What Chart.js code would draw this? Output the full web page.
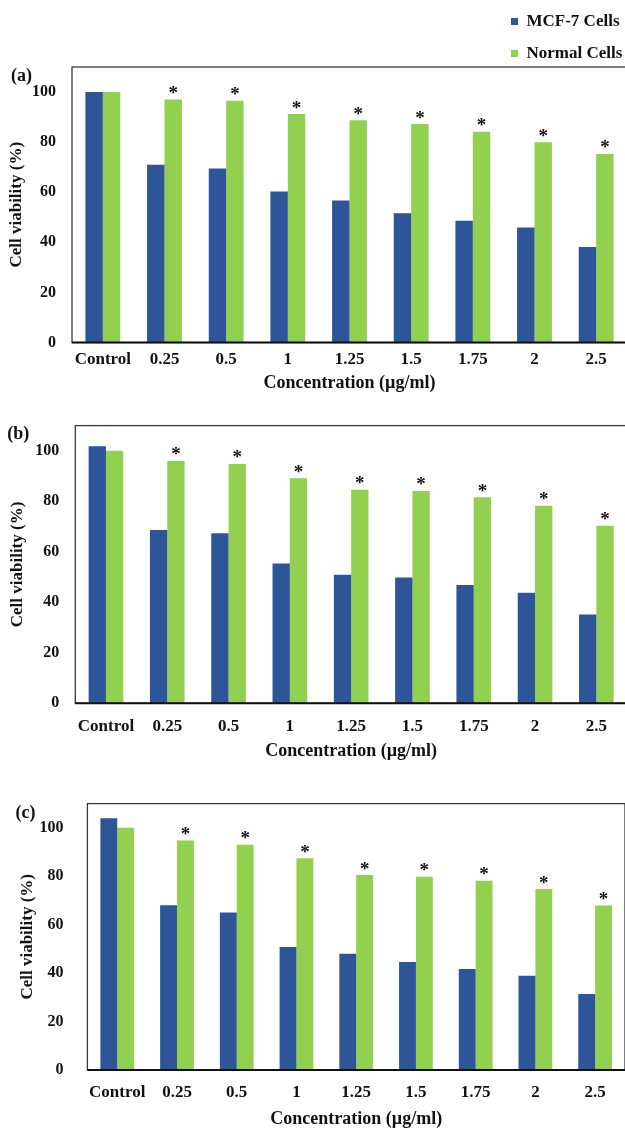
<!DOCTYPE html>
<html>
<head>
<meta charset="utf-8">
<script src="https://cdn.jsdelivr.net/npm/chart.js@4.4.1/dist/chart.umd.min.js"></script>
<style>
  html, body { margin: 0; padding: 0; background: #fff; width: 625px; height: 1128px; overflow: hidden; position: relative; }
  canvas { position: absolute; }
</style>
</head>
<body>
<canvas id="ca"></canvas>
<canvas id="cb"></canvas>
<canvas id="cc"></canvas>
<canvas id="legend"></canvas>
<script>
// ---- data ----
const categories = ['Control', '0.25', '0.5', '1', '1.25', '1.5', '1.75', '2', '2.5'];
const seriesNames = ['MCF-7 Cells', 'Normal Cells'];
const mcf7A   = [100, 71, 69.5, 60.3, 56.7, 51.6, 48.6, 45.9, 38.1];
const normalA = [100, 97, 96.5, 91.2, 88.7, 87.2, 84.1, 80.0, 75.3];
const mcf7B   = [101.8, 68.6, 67.4, 55.4, 50.9, 49.8, 46.9, 43.8, 35.2];
const normalB = [100, 96, 94.8, 89.1, 84.6, 84.1, 81.6, 78.3, 70.3];
const mcf7C   = [104, 68, 65, 50.8, 48, 44.6, 41.7, 38.9, 31.4];
const normalC = [100, 94.8, 93, 87.4, 80.5, 79.8, 78.1, 74.7, 67.9];
const yTicks = [0, 20, 40, 60, 80, 100];
const yMax = 110;
const panelLabels = ['(a)', '(b)', '(c)'];
const significant = [false, true, true, true, true, true, true, true, true];

// ---- styles ----
const BLUE = '#2E5597';
const GREEN = '#92D050';
const FONT = '"Liberation Serif", "Times New Roman", serif';
const TXT = '#111';

const boxPlugin = {
  id: 'boxPlugin',
  afterDraw(chart, args, opts) {
    const {ctx, chartArea: a} = chart;
    ctx.save();
    ctx.strokeStyle = '#3a3a3a';
    ctx.lineWidth = 1.3;
    ctx.strokeRect(a.left, a.top, a.right - a.left, a.bottom - a.top);
    ctx.strokeStyle = '#111';
    ctx.lineWidth = 2;
    ctx.beginPath();
    ctx.moveTo(a.left, a.bottom);
    ctx.lineTo(a.right, a.bottom);
    ctx.stroke();
    // significance asterisks above Normal Cells bars
    const meta = chart.getDatasetMeta(1);
    ctx.fillStyle = TXT;
    ctx.font = 'bold 19px ' + FONT;
    ctx.textAlign = 'center';
    ctx.textBaseline = 'alphabetic';
    meta.data.forEach((bar, i) => {
      if (significant[i]) ctx.fillText('*', bar.x, bar.y - 0.5);
    });
    // panel label
    ctx.font = 'bold 18px ' + FONT;
    ctx.textAlign = 'left';
    ctx.textBaseline = 'middle';
    ctx.fillText(opts.label, a.left + opts.lx, a.top + opts.ly);
    ctx.restore();
  }
};

function makeChart(id, cfg) {
  const c = document.getElementById(id);
  c.width = 640; c.height = cfg.H;
  c.style.left = '0px'; c.style.top = cfg.top + 'px';
  c.style.width = '640px'; c.style.height = cfg.H + 'px';
  return new Chart(c, {
    type: 'bar',
    data: {
      labels: categories,
      datasets: [
        { label: seriesNames[0], data: cfg.mcf7, backgroundColor: BLUE, borderWidth: 0,
          categoryPercentage: 0.565, barPercentage: 1.0 },
        { label: seriesNames[1], data: cfg.normal, backgroundColor: GREEN, borderWidth: 0,
          categoryPercentage: 0.565, barPercentage: 1.0 }
      ]
    },
    options: {
      responsive: false,
      animation: false,
      layout: { padding: { top: cfg.areaTop - cfg.top, right: cfg.padRight, left: 0, bottom: 0 } },
      plugins: {
        legend: { display: false },
        tooltip: { enabled: false },
        boxPlugin: { label: cfg.label, lx: cfg.lx, ly: cfg.ly }
      },
      scales: {
        x: {
          grid: { display: false, drawTicks: false },
          border: { display: false },
          ticks: { color: TXT, font: { family: FONT, weight: 'bold', size: 17 }, padding: cfg.xTickPad, maxRotation: 0, autoSkip: false },
          title: { display: true, text: 'Concentration (µg/ml)', color: TXT,
                   font: { family: FONT, weight: 'bold', size: 18 }, padding: { top: 0, bottom: cfg.xTitlePad } },
          afterFit(s) { s.height = (cfg.top + cfg.H) - cfg.areaBottom; }
        },
        y: {
          min: 0, max: yMax,
          grid: { display: false, drawTicks: false },
          border: { display: false },
          afterBuildTicks(s) { s.ticks = yTicks.map(v => ({ value: v })); },
          ticks: { color: TXT, font: { family: FONT, weight: 'bold', size: 16 }, padding: cfg.yTickPad },
          title: { display: true, text: 'Cell viability (%)', color: TXT,
                   font: { family: FONT, weight: 'bold', size: 17 }, padding: { top: cfg.yTitlePad, bottom: 0 } },
          afterFit(s) { s.width = cfg.areaLeft; }
        }
      }
    },
    plugins: [boxPlugin]
  });
}

makeChart('ca', { top: 0, H: 400, areaTop: 67, areaBottom: 342.5, areaLeft: 72, padRight: 13,
  mcf7: mcf7A, normal: normalA, label: panelLabels[0], lx: -61, ly: 9,
  xTickPad: 6.8, xTitlePad: 6.2, yTickPad: 16, yTitlePad: 6.8 });
makeChart('cb', { top: 400, H: 370, areaTop: 419, areaBottom: 703.3, areaLeft: 75.3, padRight: 13,
  mcf7: mcf7B, normal: normalB, label: panelLabels[1], lx: -68, ly: 8.5,
  xTickPad: 13.5, xTitlePad: 8.2, yTickPad: 16, yTitlePad: 7.3 });
makeChart('cc', { top: 770, H: 370, areaTop: 785, areaBottom: 1070, areaLeft: 87.4, padRight: 15,
  mcf7: mcf7C, normal: normalC, label: panelLabels[2], lx: -72, ly: 10,
  xTickPad: 12.3, xTitlePad: 10.2, yTickPad: 24, yTitlePad: 17.8 });

// ---- legend (own small chart so the two entries stack) ----
(function () {
  const c = document.getElementById('legend');
  c.width = 129; c.height = 60;
  c.style.left = '496px'; c.style.top = '-2px';
  c.style.width = '129px'; c.style.height = '60px';
  new Chart(c, {
    type: 'bar',
    data: {
      labels: [],
      datasets: [
        { label: seriesNames[0], data: [], backgroundColor: BLUE, borderWidth: 0 },
        { label: seriesNames[1], data: [], backgroundColor: GREEN, borderWidth: 0 }
      ]
    },
    options: {
      responsive: false,
      animation: false,
      layout: { padding: 0 },
      scales: { x: { display: false }, y: { display: false } },
      plugins: {
        tooltip: { enabled: false },
        legend: {
          display: true, position: 'top', align: 'start', maxHeight: 80,
          labels: { boxWidth: 7, boxHeight: 7, padding: 15, color: TXT,
                    font: { family: FONT, weight: 'bold', size: 17 } }
        }
      }
    }
  });
})();
</script>
</body>
</html>
